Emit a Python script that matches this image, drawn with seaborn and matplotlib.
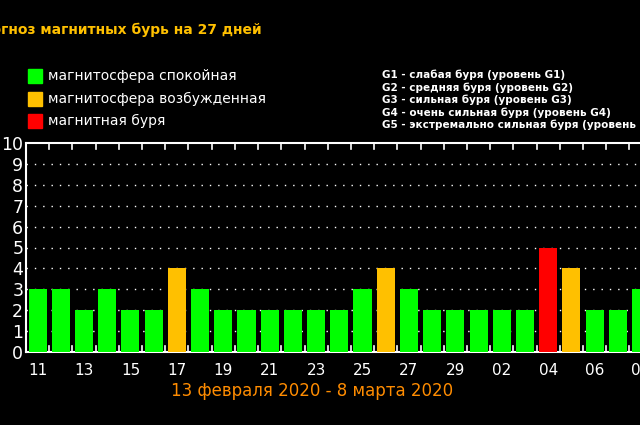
import matplotlib
matplotlib.use("Agg")
import matplotlib.pyplot as plt
import seaborn as sns
import pandas as pd

days = ["11","12","13","14","15","16","17","18","19","20","21","22","23","24","25","26","27","28","29","01","02","03","04","05","06","07","08"]
kp = [3,3,2,3,2,2,4,3,2,2,2,2,2,2,3,4,3,2,2,2,2,2,5,4,2,2,3]
status = ["q" if v <= 3 else ("a" if v == 4 else "s") for v in kp]
colors = {"q": "#00ff00", "a": "#ffc000", "s": "#ff0000"}
legend_left = ["магнитосфера спокойная", "магнитосфера возбужденная", "магнитная буря"]
legend_right = ["G1 - слабая буря (уровень G1)", "G2 - средняя буря (уровень G2)",
                "G3 - сильная буря (уровень G3)", "G4 - очень сильная буря (уровень G4)",
                "G5 - экстремально сильная буря (уровень G5)"]

df = pd.DataFrame({"day": days, "kp": kp, "st": status})
df["x"] = range(len(days))

fig = plt.figure(figsize=(6.4, 4.25), dpi=100, facecolor="black")
ax = fig.add_axes([26/640, 73/425, 629/640, 209/425], facecolor="black")
sns.barplot(data=df, x="x", y="kp", hue="st", palette=colors, dodge=False,
            width=0.78, legend=False, ax=ax, saturation=1)
for p in ax.patches:
    p.set_zorder(3)
ax.set_ylim(0, 10)
ax.set_xlim(-0.5, 26.6)
ax.set_yticks(range(11))
ax.set_yticklabels([str(i) for i in range(11)], fontsize=12.5, color="white")
ax.set_xticks(range(0, 27, 2))
ax.set_xticklabels(days[::2], fontsize=11, color="white")
ax.tick_params(axis="y", length=0, pad=2)
ax.tick_params(axis="x", length=0, pad=8)
for y in range(1, 10):
    ax.axhline(y, color="white", lw=1, ls=(0, (1, 5)), zorder=1)
for i in range(27):
    ax.plot([i + 0.5, i + 0.5], [10, 9.7], color="white", lw=1.2, zorder=4, clip_on=False)
    ax.plot([i + 0.5, i + 0.5], [0, 0.3], color="white", lw=1.2, zorder=4, clip_on=False)
for s in ["left", "top", "bottom"]:
    ax.spines[s].set_color("white")
    ax.spines[s].set_linewidth(1.5)
ax.spines["right"].set_visible(False)
ax.set_xlabel("")
ax.set_ylabel("")

fig.text(-30/640, 1 - 30/425, "Прогноз магнитных бурь на 27 дней", color="#ffc000",
         fontsize=10, fontweight="bold", va="center")
ys = [76, 99, 121]
for (lab, c), y in zip(zip(legend_left, ["#00ff00", "#ffc000", "#ff0000"]), ys):
    fig.patches.append(plt.Rectangle((28/640, 1 - (y + 7)/425), 14/640, 14/425,
                                     transform=fig.transFigure, color=c, figure=fig))
    fig.text(48/640, 1 - y/425, lab, color="white", fontsize=10, va="center")
for i, lab in enumerate(legend_right):
    fig.text(382/640, 1 - (75 + i * 12.5)/425, lab, color="white", fontsize=7.5,
             fontweight="bold", va="center")
fig.text(312/640, 1 - 391/425, "13 февраля 2020 - 8 марта 2020", color="#ff8c00",
         fontsize=12, ha="center", va="center")
fig.savefig("out.png", dpi=100, facecolor="black")
